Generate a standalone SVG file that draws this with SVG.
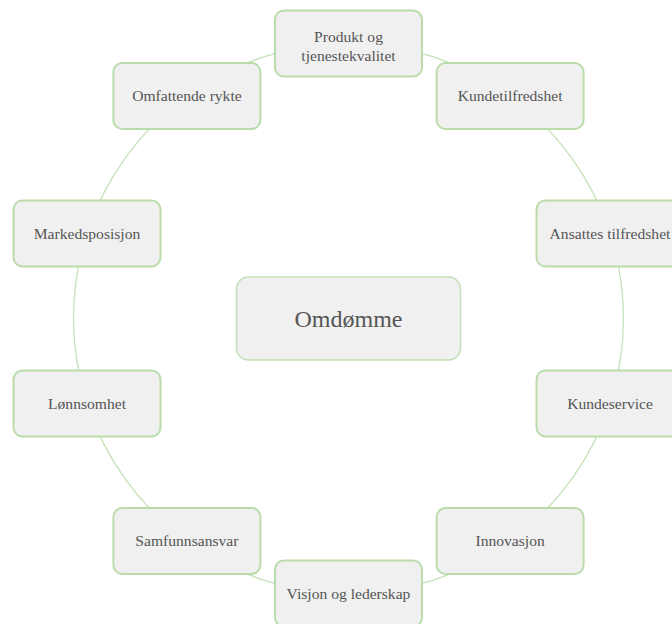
<svg xmlns="http://www.w3.org/2000/svg" width="672" height="624" viewBox="0 0 672 624">
  <style>
    .node rect { fill: #f0f0f0; stroke: #b9dcaa; stroke-width: 2; }
    .node text { font-family: "Liberation Serif", "Times New Roman", serif; font-size: 15.6px; fill: #555555; text-anchor: middle; }
    .hub rect { fill: #f0f0f0; stroke: #c2dfb5; stroke-width: 1.5; }
    .hub text { font-family: "Liberation Serif", "Times New Roman", serif; font-size: 24px; fill: #555555; text-anchor: middle; }
    .link { fill: none; stroke: #c6e2b9; stroke-width: 1.3; }
  </style>
  <rect width="672" height="624" fill="#ffffff"/>

  <!-- ring of arcs joining neighbouring nodes (radius 275 around 348.5,318.5) -->
  <g id="connectors">
    <path class="link" d="M348.5 43.5 A275 275 0 0 1 510.1 96"/>
    <path class="link" d="M510.1 96 A275 275 0 0 1 610 233.5"/>
    <path class="link" d="M610 233.5 A275 275 0 0 1 610 403.5"/>
    <path class="link" d="M610 403.5 A275 275 0 0 1 510.1 541"/>
    <path class="link" d="M510.1 541 A275 275 0 0 1 348.5 593.5"/>
    <path class="link" d="M348.5 593.5 A275 275 0 0 1 186.9 541"/>
    <path class="link" d="M186.9 541 A275 275 0 0 1 87 403.5"/>
    <path class="link" d="M87 403.5 A275 275 0 0 1 87 233.5"/>
    <path class="link" d="M87 233.5 A275 275 0 0 1 186.9 96"/>
    <path class="link" d="M186.9 96 A275 275 0 0 1 348.5 43.5"/>
  </g>

  <g id="omdomme" class="hub">
    <rect x="236.5" y="277" width="224" height="83" rx="12"/>
    <text x="348.5" y="327">Omdømme</text>
  </g>

  <g id="produkt" class="node">
    <rect x="275" y="10.5" width="147" height="66" rx="9"/>
    <text x="348.5" y="41.5">Produkt og</text>
    <text x="348.5" y="60.5">tjenestekvalitet</text>
  </g>
  <g id="kundetilfredshet" class="node">
    <rect x="436.6" y="63" width="147" height="66" rx="9"/>
    <text x="510.1" y="101">Kundetilfredshet</text>
  </g>
  <g id="ansattes" class="node">
    <rect x="536.5" y="200.5" width="147" height="66" rx="9"/>
    <text x="610" y="238.5">Ansattes tilfredshet</text>
  </g>
  <g id="kundeservice" class="node">
    <rect x="536.5" y="370.5" width="147" height="66" rx="9"/>
    <text x="610" y="408.5">Kundeservice</text>
  </g>
  <g id="innovasjon" class="node">
    <rect x="436.6" y="508" width="147" height="66" rx="9"/>
    <text x="510.1" y="546">Innovasjon</text>
  </g>
  <g id="visjon" class="node">
    <rect x="275" y="560.5" width="147" height="66" rx="9"/>
    <text x="348.5" y="598.5">Visjon og lederskap</text>
  </g>
  <g id="samfunnsansvar" class="node">
    <rect x="113.4" y="508" width="147" height="66" rx="9"/>
    <text x="186.9" y="546">Samfunnsansvar</text>
  </g>
  <g id="lonnsomhet" class="node">
    <rect x="13.5" y="370.5" width="147" height="66" rx="9"/>
    <text x="87" y="408.5">Lønnsomhet</text>
  </g>
  <g id="markedsposisjon" class="node">
    <rect x="13.5" y="200.5" width="147" height="66" rx="9"/>
    <text x="87" y="238.5">Markedsposisjon</text>
  </g>
  <g id="omfattende" class="node">
    <rect x="113.4" y="63" width="147" height="66" rx="9"/>
    <text x="186.9" y="101">Omfattende rykte</text>
  </g>
</svg>
